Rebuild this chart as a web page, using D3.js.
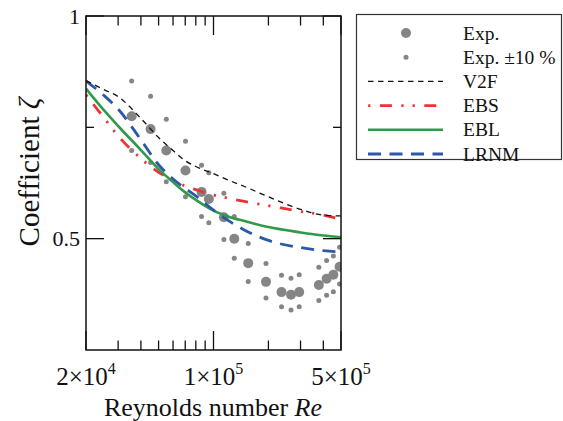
<!DOCTYPE html>
<html>
<head>
<meta charset="utf-8">
<script src="https://cdn.jsdelivr.net/npm/d3@7"></script>
<style>
  html, body { margin: 0; padding: 0; background: #fff; }
  svg { display: block; }
  text { font-family: "Liberation Serif", "DejaVu Serif", serif; fill: #111; }
</style>
</head>
<body>
<svg id="chart" width="563" height="421"></svg>
<script>
// Measured coefficient vs Reynolds number
const expRe   = [35600, 45200, 55100, 70200, 86000, 94300, 114000, 130000, 155000,
                 194000, 236000, 266000, 295000, 378000, 417000, 454000, 491000];
const expZeta = [0.775, 0.746, 0.698, 0.653, 0.605, 0.589, 0.548, 0.500, 0.445,
                 0.403, 0.380, 0.374, 0.380, 0.396, 0.410, 0.419, 0.437];
const expHigh = [0.854, 0.820, 0.768, 0.719, 0.665, 0.648, 0.602, 0.550, 0.489,
                 0.444, 0.418, 0.411, 0.419, 0.436, 0.451, 0.461, 0.481];
const expLow  = [0.698, 0.671, 0.628, 0.594, 0.550, 0.536, 0.498, 0.456, 0.404,
                 0.367, 0.347, 0.340, 0.347, 0.361, 0.373, 0.381, 0.398];

// Model predictions on a common Re grid
const modelRe = [20000, 25000, 30000, 40000, 50000, 60000, 70000, 80000, 100000,
                 120000, 150000, 200000, 300000, 400000, 500000];
const v2f  = [0.855, 0.835, 0.819, 0.770, 0.727, 0.698, 0.675, 0.662, 0.646,
              0.632, 0.616, 0.594, 0.566, 0.553, 0.551];
const ebs  = [0.823, 0.772, 0.731, 0.680, 0.649, 0.632, 0.618, 0.610, 0.598,
              0.591, 0.583, 0.574, 0.561, 0.553, 0.543];
const ebl  = [0.837, 0.789, 0.753, 0.699, 0.656, 0.627, 0.604, 0.587, 0.563,
              0.550, 0.539, 0.526, 0.514, 0.507, 0.503];
const lrnm = [0.854, 0.822, 0.791, 0.722, 0.666, 0.634, 0.613, 0.596, 0.564,
              0.541, 0.518, 0.496, 0.480, 0.473, 0.470];

const xMinorTicks = [30000, 40000, 50000, 60000, 70000, 80000, 90000, 200000, 300000, 400000];
const xLabelTicks = [[20000, "2", "4"], [100000, "1", "5"], [500000, "5", "5"]];
const yLabelTicks = [1, 0.5];
const yMinorTicks = [0.75];

const svg = d3.select("#chart");
const L = 86, R = 341, T = 16, B = 350;

const x = d3.scaleLog().domain([20000, 500000]).range([L, R]);
const y = d3.scaleLinear().domain([0.25, 1]).range([B, T]);

svg.append("defs").append("clipPath").attr("id", "plotClip")
  .append("rect").attr("x", L).attr("y", T).attr("width", R - L).attr("height", B - T);

const plot = svg.append("g").attr("clip-path", "url(#plotClip)");

const grey = "#858585";
const rBig = 5, rSmall = 2.5;
// experimental scatter
plot.selectAll("circle.hi").data(expRe).join("circle")
  .attr("cx", d => x(d)).attr("cy", (d, i) => y(expHigh[i])).attr("r", rSmall).attr("fill", grey);
plot.selectAll("circle.lo").data(expRe).join("circle")
  .attr("cx", d => x(d)).attr("cy", (d, i) => y(expLow[i])).attr("r", rSmall).attr("fill", grey);
plot.selectAll("circle.exp").data(expRe).join("circle")
  .attr("cx", d => x(d)).attr("cy", (d, i) => y(expZeta[i])).attr("r", rBig).attr("fill", grey);

const styles = {
  v2f:  { color: "#111",    width: 1.3, dash: "5.5,4.5", offset: 0 },
  ebs:  { color: "#ec3237", width: 2.8, dash: "12,9.5,2.2,9,2.2,9.5", offset: 32.5 },
  ebl:  { color: "#31994a", width: 2.6, dash: null, offset: 0 },
  lrnm: { color: "#2b59a8", width: 2.8, dash: "13,8.5", offset: 0 }
};
const series = [["v2f", v2f], ["ebs", ebs], ["ebl", ebl], ["lrnm", lrnm]];

const line = d3.line().x(d => x(d[0])).y(d => y(d[1])).curve(d3.curveMonotoneX);
// draw order: EBS, EBL, LRNM, V2F
for (const key of ["ebs", "ebl", "lrnm", "v2f"]) {
  const vals = series.find(s => s[0] === key)[1];
  const st = styles[key];
  plot.append("path")
    .attr("d", line(modelRe.map((r, i) => [r, vals[i]])))
    .attr("fill", "none").attr("stroke", st.color).attr("stroke-width", st.width)
    .attr("stroke-dasharray", st.dash).attr("stroke-dashoffset", st.offset);
}

// frame
svg.append("rect").attr("x", L).attr("y", T).attr("width", R - L).attr("height", B - T)
  .attr("fill", "none").attr("stroke", "#111").attr("stroke-width", 1.5);

const ticks = svg.append("g").attr("stroke", "#111").attr("stroke-width", 1.3);
const minorLen = 9.5, majorLen = 19;
for (const t of xMinorTicks) {
  ticks.append("line").attr("x1", x(t)).attr("x2", x(t)).attr("y1", B).attr("y2", B - minorLen);
  ticks.append("line").attr("x1", x(t)).attr("x2", x(t)).attr("y1", T).attr("y2", T + minorLen);
}
for (const [t] of xLabelTicks) {
  ticks.append("line").attr("x1", x(t)).attr("x2", x(t)).attr("y1", B).attr("y2", B - majorLen);
  ticks.append("line").attr("x1", x(t)).attr("x2", x(t)).attr("y1", T).attr("y2", T + majorLen);
}
for (const t of yMinorTicks) {
  ticks.append("line").attr("x1", L).attr("x2", L + 8).attr("y1", y(t)).attr("y2", y(t));
  ticks.append("line").attr("x1", R).attr("x2", R - 8).attr("y1", y(t)).attr("y2", y(t));
}
for (const t of yLabelTicks) {
  ticks.append("line").attr("x1", L).attr("x2", L + 18).attr("y1", y(t)).attr("y2", y(t));
  ticks.append("line").attr("x1", R).attr("x2", R - 18).attr("y1", y(t)).attr("y2", y(t));
}

// tick labels
for (const t of yLabelTicks) {
  svg.append("text").attr("x", 80).attr("y", y(t) + 7.5)
    .attr("text-anchor", "end").attr("font-size", 22).text(d3.format("")(t));
}
for (const [t, m, e] of xLabelTicks) {
  const tx = svg.append("text").attr("x", x(t)).attr("y", 385)
    .attr("text-anchor", "middle").attr("font-size", 25);
  tx.append("tspan").text(m + "\u00d710");
  tx.append("tspan").attr("font-size", 16).attr("dy", -11).text(e);
}

// axis titles
const xt = svg.append("text").attr("x", 213).attr("y", 415.5).attr("text-anchor", "middle").attr("font-size", 26);
xt.append("tspan").text("Reynolds number ");
xt.append("tspan").attr("font-style", "italic").text("Re");

const yt = svg.append("text").attr("transform", "translate(39,172) rotate(-90)")
  .attr("text-anchor", "middle").attr("font-size", 29);
yt.append("tspan").text("Coefficient ");
yt.append("tspan").attr("font-style", "italic").text("\u03b6");

// legend
const lg = svg.append("g");
lg.append("rect").attr("x", 356.5).attr("y", 14.5).attr("width", 205).attr("height", 145)
  .attr("fill", "#fff").attr("stroke", "#333").attr("stroke-width", 1.2);
const rowY = i => 33 + i * 24.2;
const names = ["Exp.", "Exp. \u00b110 %", "V2F", "EBS", "EBL", "LRNM"];
lg.append("circle").attr("cx", 406).attr("cy", rowY(0)).attr("r", rBig).attr("fill", grey);
lg.append("circle").attr("cx", 406).attr("cy", rowY(1)).attr("r", rSmall).attr("fill", grey);
series.forEach(([key], i) => {
  const st = styles[key];
  lg.append("line").attr("x1", 368).attr("x2", 443).attr("y1", rowY(i + 2)).attr("y2", rowY(i + 2))
    .attr("stroke", st.color).attr("stroke-width", st.width)
    .attr("stroke-dasharray", st.dash).attr("stroke-dashoffset", st.offset);
});
names.forEach((n, i) => {
  lg.append("text").attr("x", 463).attr("y", rowY(i) + 6.5).attr("font-size", 19.5).text(n);
});
</script>
</body>
</html>
